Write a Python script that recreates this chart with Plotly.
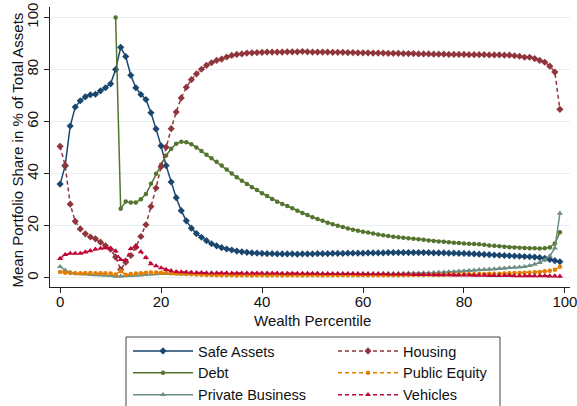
import plotly.graph_objects as go

percentile = list(range(100))

safe_assets = [36.0, 43.0, 58.3, 65.6, 68.0, 69.5, 70.3, 70.5, 71.8, 73.0,
               74.5, 80.0, 88.5, 85.0, 77.8, 73.0, 70.4, 68.5, 63.4, 57.2,
               50.7, 43.1, 36.8, 30.8, 25.8, 21.9, 19.1, 17.0, 15.6, 14.3,
               13.1, 12.3, 11.6, 11.1, 10.7, 10.3, 10.0, 9.8, 9.6, 9.5,
               9.4, 9.3, 9.3, 9.2, 9.2, 9.2, 9.2, 9.1, 9.2, 9.2,
               9.2, 9.3, 9.3, 9.3, 9.4, 9.4, 9.4, 9.5, 9.5, 9.5,
               9.5, 9.6, 9.6, 9.6, 9.6, 9.7, 9.7, 9.7, 9.7, 9.7,
               9.7, 9.7, 9.7, 9.7, 9.6, 9.6, 9.6, 9.5, 9.5, 9.4,
               9.4, 9.3, 9.2, 9.1, 9.0, 8.9, 8.8, 8.7, 8.6, 8.5,
               8.4, 8.3, 8.2, 8.1, 8.0, 7.8, 7.5, 7.1, 6.6, 6.2]

housing = [50.5, 43.2, 28.3, 21.7, 18.8, 16.9, 15.7, 15.0, 13.7, 12.3,
           11.0, 8.0, 3.2, 6.0, 8.6, 11.8, 15.9, 20.4, 27.4, 34.5,
           42.7, 50.2, 57.3, 63.7, 69.1, 73.2, 76.1, 78.3, 80.1, 81.6,
           82.6, 83.5, 84.0, 84.8, 85.4, 85.8, 86.0, 86.3, 86.4, 86.5,
           86.6, 86.7, 86.7, 86.7, 86.7, 86.8, 86.8, 86.8, 86.9, 86.8,
           86.7, 86.7, 86.7, 86.7, 86.6, 86.6, 86.6, 86.5, 86.5, 86.4,
           86.4, 86.4, 86.3, 86.3, 86.3, 86.2, 86.2, 86.2, 86.1, 86.1,
           86.1, 86.0, 86.0, 86.0, 85.9, 85.9, 85.9, 85.8, 85.8, 85.8,
           85.8, 85.7, 85.7, 85.7, 85.7, 85.6, 85.6, 85.6, 85.5, 85.5,
           85.3, 85.1, 84.7, 84.7, 84.2, 83.5, 82.8, 81.3, 79.0, 64.7]

debt = [None, None, None, None, None, None, None, None, None, None,
        None, 100.0, 26.5, 29.3, 28.9, 28.9, 30.2, 32.2, 36.1, 40.0,
        43.4, 47.0, 49.6, 51.5, 52.3, 52.1, 51.3, 50.1, 48.7, 47.3,
        45.9, 44.6, 43.1, 41.6, 40.1, 38.6, 37.3, 36.0, 34.8, 33.7,
        32.5, 31.4, 30.3, 29.2, 28.4, 27.6, 26.7, 25.8, 24.9, 24.1,
        23.3, 22.6, 21.9, 21.2, 20.6, 20.0, 19.5, 19.0, 18.5, 18.1,
        17.7, 17.4, 17.0, 16.7, 16.4, 16.1, 15.8, 15.6, 15.4, 15.2,
        15.0, 14.8, 14.6, 14.4, 14.2, 14.0, 13.9, 13.7, 13.5, 13.4,
        13.2, 13.1, 13.0, 12.9, 12.7, 12.4, 12.3, 12.1, 12.0, 11.8,
        11.7, 11.6, 11.5, 11.4, 11.4, 11.3, 11.4, 11.7, 13.2, 17.5]

public_equity = [2.3, 2.0, 1.9, 1.8, 1.8, 1.9, 1.9, 1.8, 1.8, 1.8,
                 1.7, 1.3, 2.6, 1.2, 1.5, 1.7, 1.8, 2.0, 2.1, 2.1,
                 2.0, 1.9, 1.8, 1.7, 1.6, 1.5, 1.4, 1.3, 1.2, 1.1,
                 1.1, 1.0, 1.0, 1.0, 1.0, 0.9, 1.0, 1.0, 0.9, 1.0,
                 1.0, 0.9, 1.0, 1.0, 0.9, 1.0, 1.0, 1.0, 0.9, 1.0,
                 1.0, 1.0, 0.9, 1.0, 1.0, 1.0, 1.0, 1.0, 1.0, 1.0,
                 1.0, 1.0, 1.0, 1.0, 1.0, 1.0, 1.0, 1.0, 1.0, 1.1,
                 1.1, 1.1, 1.1, 1.2, 1.2, 1.2, 1.2, 1.3, 1.3, 1.3,
                 1.4, 1.4, 1.4, 1.5, 1.5, 1.6, 1.6, 1.6, 1.7, 1.8,
                 1.9, 1.9, 2.0, 2.1, 2.2, 2.3, 2.5, 2.7, 3.1, 4.3]

private_business = [4.3, 2.9, 2.2, 1.7, 1.5, 1.4, 1.3, 1.2, 1.1, 1.0,
                    0.9, 0.6, 0.6, 0.8, 0.9, 1.0, 1.1, 1.3, 1.4, 1.5,
                    1.6, 1.6, 1.6, 1.5, 1.5, 1.5, 1.5, 1.5, 1.5, 1.5,
                    1.5, 1.5, 1.5, 1.5, 1.5, 1.5, 1.5, 1.5, 1.5, 1.5,
                    1.5, 1.5, 1.5, 1.5, 1.5, 1.5, 1.5, 1.5, 1.5, 1.5,
                    1.5, 1.5, 1.5, 1.5, 1.5, 1.5, 1.5, 1.5, 1.6, 1.6,
                    1.6, 1.6, 1.6, 1.6, 1.7, 1.7, 1.7, 1.7, 1.7, 1.8,
                    1.8, 1.8, 1.9, 1.9, 2.0, 2.1, 2.2, 2.3, 2.4, 2.5,
                    2.6, 2.8, 2.9, 3.1, 3.2, 3.3, 3.4, 3.6, 3.7, 3.9,
                    4.0, 4.1, 4.3, 4.7, 5.2, 5.9, 6.9, 8.4, 11.4, 24.8]

vehicles = [7.4, 8.9, 9.4, 9.4, 9.4, 9.9, 10.4, 11.0, 11.3, 11.5,
            11.3, 10.3, 7.0, 6.9, 11.2, 12.3, 10.0, 7.8, 5.4, 4.6,
            3.8, 3.2, 2.7, 2.4, 2.3, 2.2, 2.1, 2.0, 2.0, 1.9,
            1.9, 1.9, 1.9, 1.9, 1.8, 1.8, 1.8, 1.8, 1.8, 1.8,
            1.8, 1.8, 1.8, 1.8, 1.7, 1.7, 1.7, 1.7, 1.7, 1.7,
            1.7, 1.7, 1.6, 1.6, 1.6, 1.6, 1.6, 1.6, 1.6, 1.5,
            1.5, 1.5, 1.5, 1.5, 1.5, 1.4, 1.4, 1.4, 1.4, 1.4,
            1.3, 1.3, 1.3, 1.3, 1.2, 1.2, 1.2, 1.2, 1.1, 1.1,
            1.1, 1.1, 1.0, 1.0, 1.0, 0.9, 0.9, 0.9, 0.9, 0.9,
            0.8, 0.8, 0.8, 0.8, 0.8, 0.8, 0.8, 0.7, 0.7, 0.6]

x_ticks = [0, 20, 40, 60, 80, 100]
y_ticks = [0, 20, 40, 60, 80, 100]
x_title = "Wealth Percentile"
y_title = "Mean Portfolio Share in % of Total Assets"

FONT = "Liberation Sans, Arial, sans-serif"

series = [
    ("Safe Assets", safe_assets, "#1a476f", "solid", "diamond", 5.5, "legend"),
    ("Debt", debt, "#55752f", "solid", "circle", 4.5, "legend"),
    ("Private Business", private_business, "#6e8e84", "solid", "triangle-up", 5.5, "legend"),
    ("Housing", housing, "#90353b", "4px,3px", "diamond", 5.5, "legend2"),
    ("Public Equity", public_equity, "#e37e00", "4px,3px", "circle", 4.5, "legend2"),
    ("Vehicles", vehicles, "#c10534", "4px,3px", "triangle-up", 5.5, "legend2"),
]

fig = go.Figure()
for name, vals, color, dash, sym, size, leg in series:
    fig.add_trace(go.Scatter(
        x=percentile, y=vals, name=name, mode="lines+markers",
        line=dict(color=color, width=1.5, dash=dash),
        marker=dict(color=color, symbol=sym, size=size),
        connectgaps=False, legend=leg, cliponaxis=False,
    ))

W0, W1 = 50, 570
T0, B0 = 7, 287

def px_x(p):
    return (p - W0) / (W1 - W0)

def px_y(p):
    return (B0 - p) / (B0 - T0)

fig.add_shape(type="rect", xref="paper", yref="paper",
              x0=px_x(126), x1=px_x(500), y0=px_y(337), y1=px_y(440),
              line=dict(color="#444444", width=1), fillcolor="rgba(0,0,0,0)")

fig.add_annotation(text=x_title, xref="paper", yref="paper",
                   x=px_x(312), y=px_y(320), xanchor="center", yanchor="middle",
                   showarrow=False, font=dict(family=FONT, size=15, color="#111"))
fig.add_annotation(text=y_title, xref="paper", yref="paper",
                   x=px_x(16.5), y=px_y(150), xanchor="center", yanchor="middle",
                   textangle=-90, showarrow=False,
                   font=dict(family=FONT, size=15, color="#111"))

legend_common = dict(
    bgcolor="rgba(0,0,0,0)", borderwidth=0, font=dict(family=FONT, size=14.5, color="#111"),
    orientation="v", xanchor="left", yanchor="top", itemwidth=60,
    tracegroupgap=0,
)

fig.update_layout(
    width=577, height=406,
    margin=dict(l=W0, r=577 - W1, t=T0, b=406 - B0, autoexpand=False),
    paper_bgcolor="white", plot_bgcolor="white",
    font=dict(family=FONT, size=15, color="#111"),
    showlegend=True,
    legend=dict(x=px_x(128), y=px_y(335), **legend_common),
    legend2=dict(x=px_x(333), y=px_y(335), **legend_common),
    xaxis=dict(
        range=[-2, 101], tickvals=x_ticks, ticks="outside", ticklen=5,
        tickcolor="#222", showline=True, linecolor="#222", linewidth=1,
        showgrid=False, zeroline=False, automargin=False,
        ticklabeloverflow="allow", tickfont=dict(size=15),
        ticklabelstandoff=-4,
    ),
    yaxis=dict(
        range=[-3.5, 104], tickvals=y_ticks, ticks="outside", ticklen=5,
        tickcolor="#222", showline=True, linecolor="#222", linewidth=1,
        showgrid=True, gridcolor="#e6eff1", gridwidth=1, zeroline=False,
        tickangle=-90, tickfont=dict(size=15), automargin=False,
        ticklabeloverflow="allow",
    ),
)

fig.write_html("out.html", post_script="document.body.style.margin='0';",
               config={"displayModeBar": False})
